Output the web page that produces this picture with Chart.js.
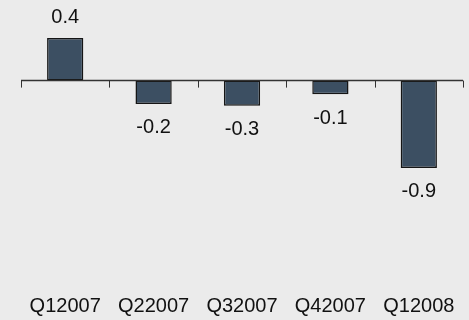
<!DOCTYPE html>
<html>
<head>
<meta charset="utf-8">
<script src="https://cdn.jsdelivr.net/npm/chart.js@4"></script>
<style>
  html, body { margin: 0; padding: 0; background: #ebebeb; }
  canvas { display: block; }
</style>
</head>
<body>
<canvas id="myChart" width="469" height="320"></canvas>
<script>
// datos
const trimestres = ["Q12007", "Q22007", "Q32007", "Q42007", "Q12008"];
const valores = [0.44, -0.24, -0.26, -0.14, -0.9];
const etiquetas = ["0.4", "-0.2", "-0.3", "-0.1", "-0.9"];

const chart = document.querySelector("#myChart");
Chart.defaults.font.family = "'Liberation Sans', Arial, sans-serif";
Chart.defaults.color = "#111";

// linea del cero con marcas hacia abajo entre categorias
const ejeCero = {
  id: "ejeCero",
  afterDatasetsDraw(c) {
    const ctx = c.ctx;
    const y0 = c.scales.y.getPixelForValue(0);
    ctx.save();
    ctx.strokeStyle = "#333";
    ctx.lineWidth = 1.5;
    ctx.beginPath();
    ctx.moveTo(c.chartArea.left, y0);
    ctx.lineTo(c.chartArea.right, y0);
    ctx.stroke();
    ctx.lineWidth = 1;
    const paso = (c.chartArea.right - c.chartArea.left) / trimestres.length;
    for (let i = 0; i <= trimestres.length; i++) {
      const px = Math.round(c.chartArea.left + i * paso) + 0.5;
      ctx.beginPath();
      ctx.moveTo(px, y0);
      ctx.lineTo(px, y0 + 7);
      ctx.stroke();
    }
    ctx.restore();
  }
};

// etiquetas de valor sobre/bajo cada barra
const etiquetasValor = {
  id: "etiquetasValor",
  afterDatasetsDraw(c) {
    const ctx = c.ctx;
    const meta = c.getDatasetMeta(0);
    ctx.save();
    ctx.font = "20px 'Liberation Sans', Arial, sans-serif";
    ctx.fillStyle = "#111";
    ctx.textAlign = "center";
    ctx.textBaseline = "middle";
    meta.data.forEach((bar, i) => {
      const y = valores[i] >= 0 ? bar.y - 20 : bar.y + 24;
      ctx.fillText(etiquetas[i], bar.x, y);
    });
    ctx.restore();
  }
};

const config = {
  type: "bar",
  data: {
    labels: trimestres,
    datasets: [
      {
        data: valores,
        backgroundColor: "#3c4f62",
        borderColor: "#151515",
        borderWidth: 1.5,
        borderSkipped: false,
        categoryPercentage: 1,
        barPercentage: 0.41
      }
    ]
  },
  options: {
    responsive: false,
    animation: false,
    layout: { padding: { left: 21, right: 6, top: 3, bottom: 2 } },
    plugins: { legend: { display: false }, tooltip: { enabled: false } },
    scales: {
      x: {
        grid: { display: false, drawTicks: false },
        border: { display: false },
        ticks: { padding: 0, font: { size: 20 }, color: "#111", maxRotation: 0 }
      },
      y: {
        display: false,
        min: -2.2,
        max: 0.8
      }
    }
  },
  plugins: [ejeCero, etiquetasValor]
};

new Chart(chart, config);
</script>
</body>
</html>
